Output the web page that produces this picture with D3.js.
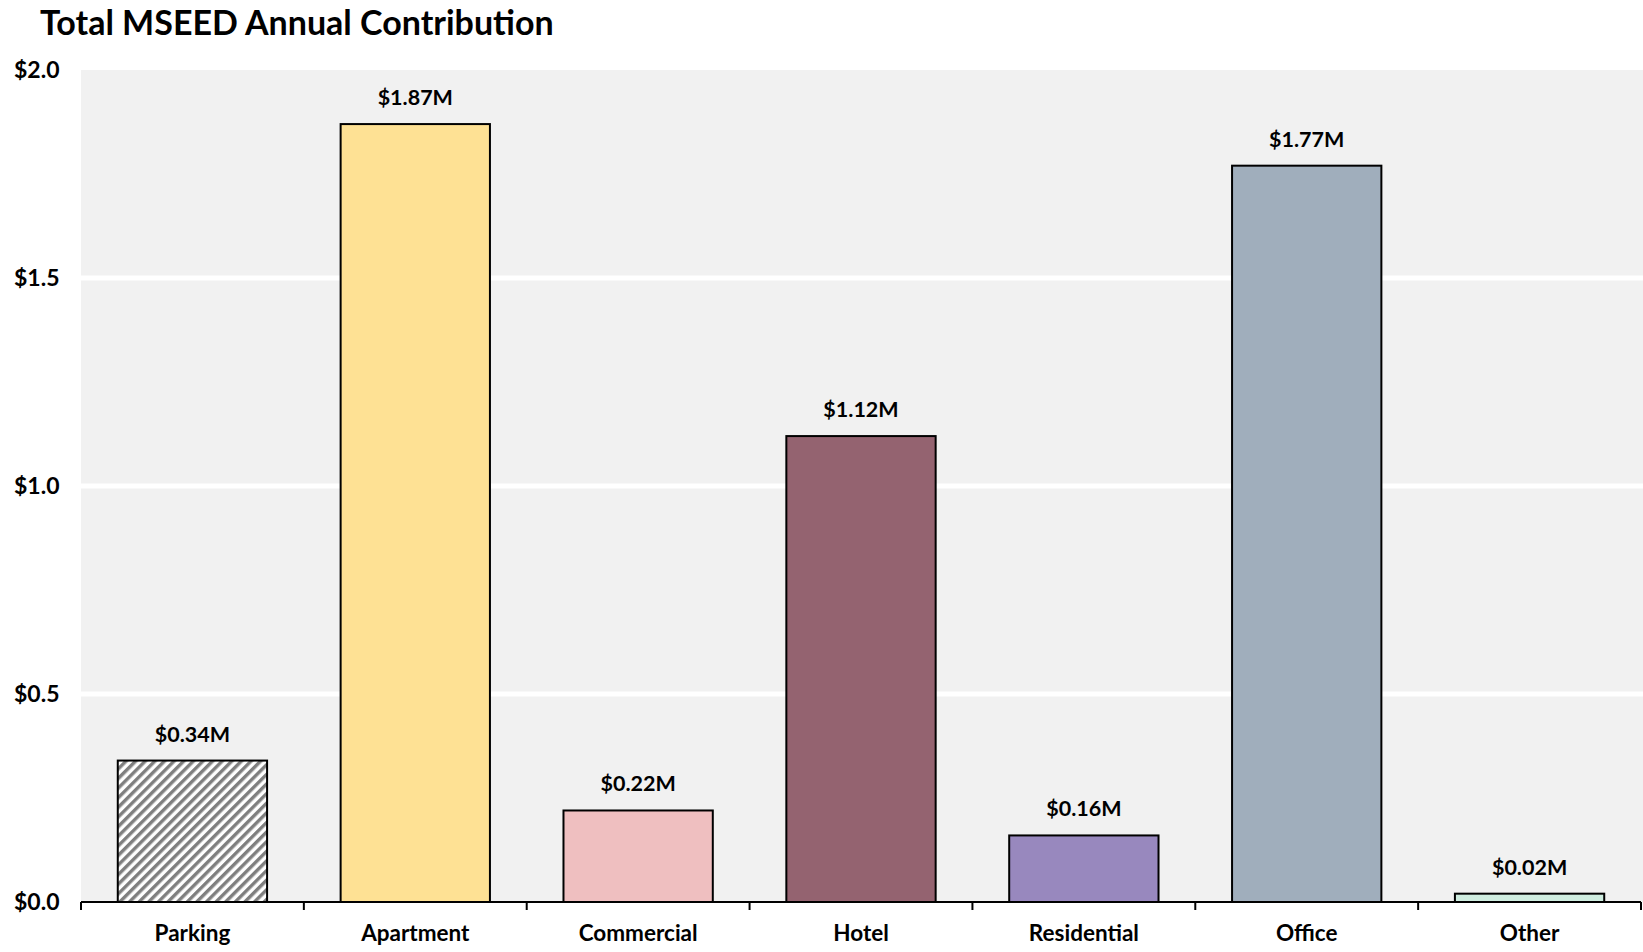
<!DOCTYPE html>
<html>
<head>
<meta charset="utf-8">
<script src="https://cdn.jsdelivr.net/npm/d3@7"></script>
<style>
  body { margin: 0; background: #ffffff; }
  text { font-family: Lato, "Open Sans", sans-serif; font-weight: bold; fill: #000; }
</style>
</head>
<body>
<svg id="chart"></svg>
<script>
// ------ Data
var categories = ["Parking", "Apartment", "Commercial", "Hotel", "Residential", "Office", "Other"];
var values = [0.34, 1.87, 0.22, 1.12, 0.16, 1.77, 0.02]; // $M
var yTicks = [0, 0.5, 1.0, 1.5, 2.0];
var barColors = ["url(#hatch)", "#FEE194", "#EFBFC0", "#946370", "#9888BE", "#A0AEBC", "#CFEDE0"];

// ------ Sizes
var width = 1643, height = 952;
var plot = {left: 81, right: 1641, top: 70, bottom: 902};

var svg = d3.select("#chart")
	.attr("width", width)
	.attr("height", height);

// hatch for parking bar
var defs = svg.append("defs");
defs.append("pattern")
	.attr("id", "hatch")
	.attr("patternUnits", "userSpaceOnUse")
	.attr("width", 6.8)
	.attr("height", 6.8)
	.attr("patternTransform", "rotate(45)")
  .call(function(p) {
	p.append("rect").attr("width", 6.8).attr("height", 6.8).attr("fill", "#ffffff");
	p.append("line").attr("x1", 1.7).attr("y1", 0).attr("x2", 1.7).attr("y2", 6.8)
		.attr("stroke", "#7F7F7F").attr("stroke-width", 3.4);
  });

// ------ Scales
var xScale = d3.scaleBand().domain(categories).range([plot.left, plot.right]).padding(0);
var yScale = d3.scaleLinear().domain([0, 2]).range([plot.bottom, plot.top]);
var barW = xScale.bandwidth() * 0.67;

// plot background
svg.append("rect")
	.attr("x", plot.left)
	.attr("y", yScale(2))
	.attr("width", width - plot.left)
	.attr("height", yScale(0) - yScale(2))
	.attr("fill", "#F1F1F1");

// gridlines
svg.selectAll(".grid")
	.data(yTicks.filter(function(d) { return d > 0 && d < 2; }))
	.enter().append("line")
	.attr("class", "grid")
	.attr("x1", plot.left)
	.attr("x2", width)
	.attr("y1", d => yScale(d))
	.attr("y2", d => yScale(d))
	.attr("stroke", "#ffffff")
	.attr("stroke-width", 5);

// y labels
svg.selectAll(".yLabel")
	.data(yTicks)
	.enter().append("text")
	.attr("class", "yLabel")
	.attr("x", 14)
	.attr("y", d => yScale(d))
	.attr("dy", "0.35em")
	.style("font-size", "23px")
	.text(d => "$" + d3.format(".1f")(d));

// ------ Bars
svg.selectAll(".bar")
	.data(values)
	.enter().append("rect")
	.attr("class", "bar")
	.attr("x", (d, i) => xScale(categories[i]) + (xScale.bandwidth() - barW) / 2)
	.attr("y", d => yScale(d))
	.attr("width", barW)
	.attr("height", d => yScale(0) - yScale(d))
	.attr("fill", (d, i) => barColors[i])
	.attr("stroke", "#000")
	.attr("stroke-width", 2);

// value labels
svg.selectAll(".valLabel")
	.data(values)
	.enter().append("text")
	.attr("class", "valLabel")
	.attr("x", (d, i) => xScale(categories[i]) + xScale.bandwidth() / 2)
	.attr("y", d => yScale(d) - 19)
	.attr("text-anchor", "middle")
	.style("font-size", "21.5px")
	.text(d => "$" + d3.format(".2f")(d) + "M");

// ------ X axis
var xAxis = d3.axisBottom(xScale).tickSize(0).tickPadding(23);
var gx = svg.append("g")
	.attr("transform", "translate(0," + yScale(0) + ")")
	.call(xAxis);
gx.select(".domain").remove();
gx.selectAll("text")
	.style("font-size", "22.5px")
	.style("font-family", "Lato, 'Open Sans', sans-serif");

gx.append("line")
	.attr("x1", plot.left).attr("x2", plot.right)
	.attr("stroke", "#000").attr("stroke-width", 2);

// ticks between categories
var bounds = categories.map(c => xScale(c)).concat([plot.right]);
gx.selectAll(".bTick")
	.data(bounds)
	.enter().append("line")
	.attr("class", "bTick")
	.attr("x1", d => d).attr("x2", d => d)
	.attr("y1", 0).attr("y2", 8)
	.attr("stroke", "#000").attr("stroke-width", 2);

// ------ Title
svg.append("text")
	.attr("x", 40)
	.attr("y", 35)
	.style("font-size", "34px")
	.text("Total MSEED Annual Contribution");
</script>
</body>
</html>
